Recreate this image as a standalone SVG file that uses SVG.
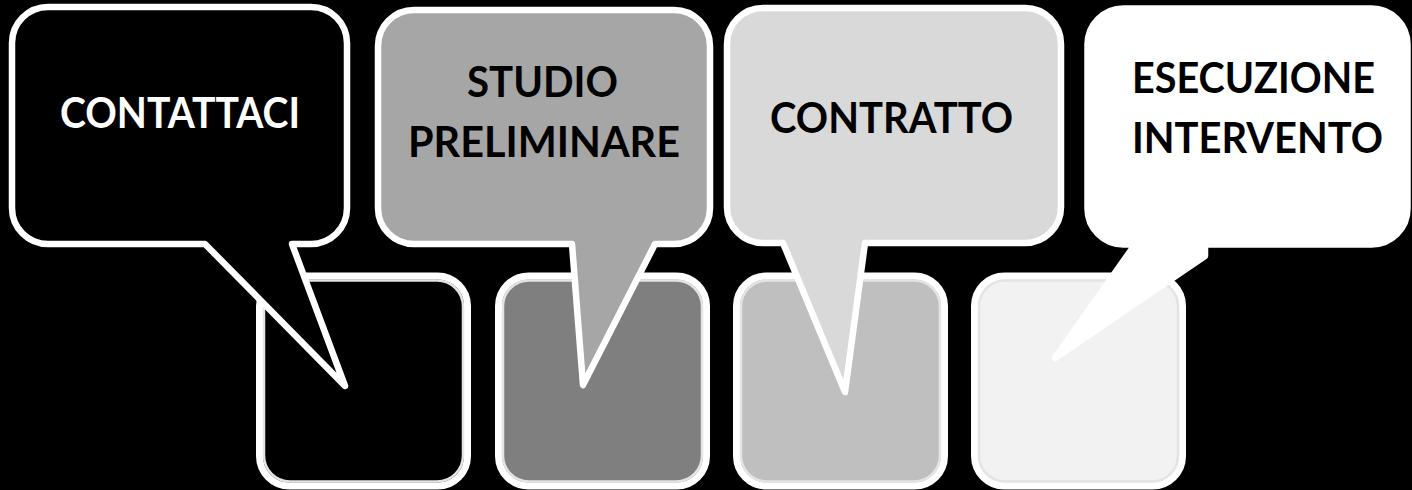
<svg xmlns="http://www.w3.org/2000/svg" width="1412" height="490" viewBox="0 0 1412 490">
<style>
.sq{stroke:#ffffff;stroke-width:7}
.sqin{fill:none;stroke:#e4e4e4;stroke-width:2.5}
.co{stroke:#ffffff;stroke-width:6.5;stroke-linejoin:round}
.t{font-family:"Lato","Open Sans","Liberation Sans",sans-serif;font-weight:700;font-size:42px}
.w{fill:#ffffff}
.k{fill:#000000}
</style>
<rect width="1412" height="490" fill="#000000"/>
<g id="step1-box"><rect class="sq" x="259.5" y="276" width="208" height="210" rx="30" fill="#000000"/><rect class="sqin" x="264" y="280.5" width="199" height="201" rx="26"/></g>
<g id="step2-box"><rect class="sq" x="498.5" y="276" width="208" height="210" rx="30" fill="#7f7f7f"/><rect class="sqin" x="503" y="280.5" width="199" height="201" rx="26"/></g>
<g id="step3-box"><rect class="sq" x="736.5" y="276" width="208" height="210" rx="30" fill="#bfbfbf"/><rect class="sqin" x="741" y="280.5" width="199" height="201" rx="26"/></g>
<g id="step4-box"><rect class="sq" x="974.5" y="276" width="208" height="210" rx="30" fill="#f2f2f2"/><rect class="sqin" x="979" y="280.5" width="199" height="201" rx="26" stroke="#ffffff"/></g>
<g id="connectors"></g>
<g id="callout-contattaci">
<path class="co" fill="#000000" d="M48,7 H311 A36,36 0 0 1 347,43 V208 A36,36 0 0 1 311,244 H292 L345,386 L205,244 H48 A36,36 0 0 1 12,208 V43 A36,36 0 0 1 48,7 Z"/>
<text class="t w" x="60" y="128" textLength="240" lengthAdjust="spacingAndGlyphs">CONTATTACI</text>
</g>
<g id="callout-studio">
<path class="co" fill="#a6a6a6" d="M414,10 H674 A36,36 0 0 1 710,46 V208 A36,36 0 0 1 674,244 H655 L583,385 L572,244 H414 A36,36 0 0 1 378,208 V46 A36,36 0 0 1 414,10 Z"/>
<text class="t k" x="467" y="97" textLength="151" lengthAdjust="spacingAndGlyphs">STUDIO</text>
<text class="t k" x="408" y="157" textLength="272" lengthAdjust="spacingAndGlyphs">PRELIMINARE</text>
</g>
<g id="callout-contratto">
<path class="co" fill="#d9d9d9" d="M763,8 H1025 A36,36 0 0 1 1061,44 V207 A36,36 0 0 1 1025,243 H865 L845,392 L783,243 H763 A36,36 0 0 1 727,207 V44 A36,36 0 0 1 763,8 Z"/>
<text class="t k" x="770" y="133" textLength="243" lengthAdjust="spacingAndGlyphs">CONTRATTO</text>
</g>
<g id="callout-esecuzione">
<path class="co" fill="#ffffff" d="M1123.5,8.5 H1371.5 A36,36 0 0 1 1407.5,44.5 V208.5 A36,36 0 0 1 1371.5,244.5 H1205 V256 L1055,358 L1135,244.5 H1123.5 A36,36 0 0 1 1087.5,208.5 V44.5 A36,36 0 0 1 1123.5,8.5 Z"/>
<text class="t k" x="1132" y="93" textLength="243" lengthAdjust="spacingAndGlyphs">ESECUZIONE</text>
<text class="t k" x="1132" y="153" textLength="251" lengthAdjust="spacingAndGlyphs">INTERVENTO</text>
</g>
</svg>
